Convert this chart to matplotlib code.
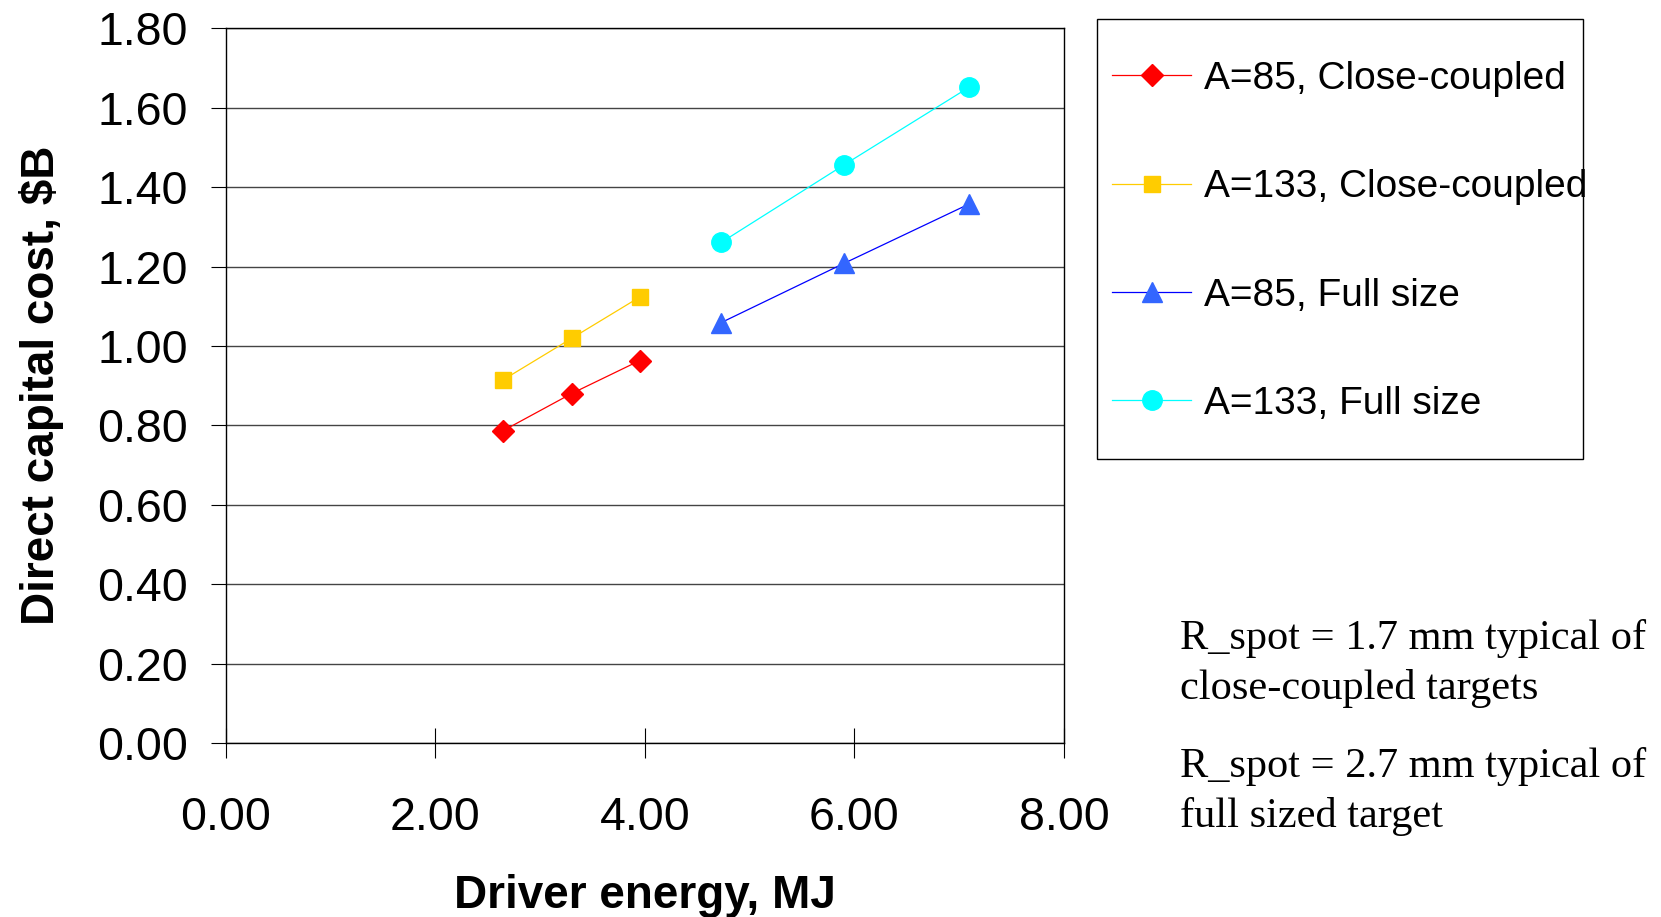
import numpy as np
import matplotlib
matplotlib.use('Agg')
import matplotlib.pyplot as plt
from matplotlib.patches import Rectangle

# Driver energy (MJ) and direct capital cost ($B)
x_cc = [2.65, 3.30, 3.95]
y_a85_cc = [0.787, 0.880, 0.963]
y_a133_cc = [0.915, 1.019, 1.123]

x_fs = [4.73, 5.90, 7.09]
y_a85_fs = [1.059, 1.208, 1.357]
y_a133_fs = [1.261, 1.456, 1.651]

labels = ['A=85, Close-coupled', 'A=133, Close-coupled',
          'A=85, Full size', 'A=133, Full size']

xticks = [0, 2, 4, 6, 8]
yticks = np.arange(0, 1.81, 0.2)

plt.rcParams['font.family'] = ['Liberation Sans', 'DejaVu Sans']

fig = plt.figure(figsize=(16.61, 9.17), dpi=100)
ax = fig.add_axes([0.1359, 0.1898, 0.5047, 0.7793])

ax.plot(x_cc, y_a85_cc, color='#FF0000', lw=0.9, marker='D', ms=11,
        mfc='#FF0000', mec='#FF0000', label=labels[0])
ax.plot(x_cc, y_a133_cc, color='#FFCC00', lw=0.9, marker='s', ms=11,
        mfc='#FFCC00', mec='#FFCC00', label=labels[1])
ax.plot(x_fs, y_a85_fs, color='#0000FF', lw=0.9, marker='^', ms=14,
        mfc='#3366FF', mec='#3366FF', label=labels[2])
ax.plot(x_fs, y_a133_fs, color='#00FFFF', lw=0.9, marker='o', ms=14,
        mfc='#00FFFF', mec='#00FFFF', label=labels[3])

ax.set_xlim(0, 8)
ax.set_ylim(0, 1.8)
ax.set_xticks(xticks)
ax.set_xticklabels(['%.2f' % v for v in xticks])
ax.set_yticks(yticks)
ax.set_yticklabels(['%.2f' % v for v in yticks])
ax.yaxis.grid(True, color='#444444', lw=1.0)
ax.set_axisbelow(True)
for s in ax.spines.values():
    s.set_color('black')
    s.set_linewidth(1.0)

ax.tick_params(axis='y', direction='out', length=11, width=0.8,
               labelsize=33.5, pad=16)
ax.tick_params(axis='x', direction='inout', length=22, width=0.8,
               labelsize=33.5, pad=27)

ax.set_xlabel('Driver energy, MJ', fontsize=33, fontweight='bold', labelpad=25)
ax.set_ylabel('Direct capital cost, $B', fontsize=33, fontweight='bold', labelpad=24)

# legend without its own frame; the box is drawn separately (text overflows it)
leg = ax.legend(loc='upper left', bbox_to_anchor=(1112 / 1661, 1 - 61 / 917),
                bbox_transform=fig.transFigure, fontsize=28, frameon=False,
                handlelength=2.04, handletextpad=0.33, labelspacing=1.86,
                borderpad=0, borderaxespad=0)
fig.patches.append(Rectangle((1097 / 1661, 1 - 459 / 917), 486 / 1661, 440 / 917,
                             transform=fig.transFigure, fill=False,
                             edgecolor='black', lw=1.0))

serif = ['Liberation Serif', 'DejaVu Serif']
fig.text(1180 / 1661, 1 - 699 / 917, 'R_spot = 1.7 mm typical of\nclose-coupled targets',
         fontsize=30.5, family=serif, va='baseline', linespacing=1.37)
fig.text(1180 / 1661, 1 - 827 / 917, 'R_spot = 2.7 mm typical of\nfull sized target',
         fontsize=30.5, family=serif, va='baseline', linespacing=1.37)

fig.savefig('out.png', dpi=100)
